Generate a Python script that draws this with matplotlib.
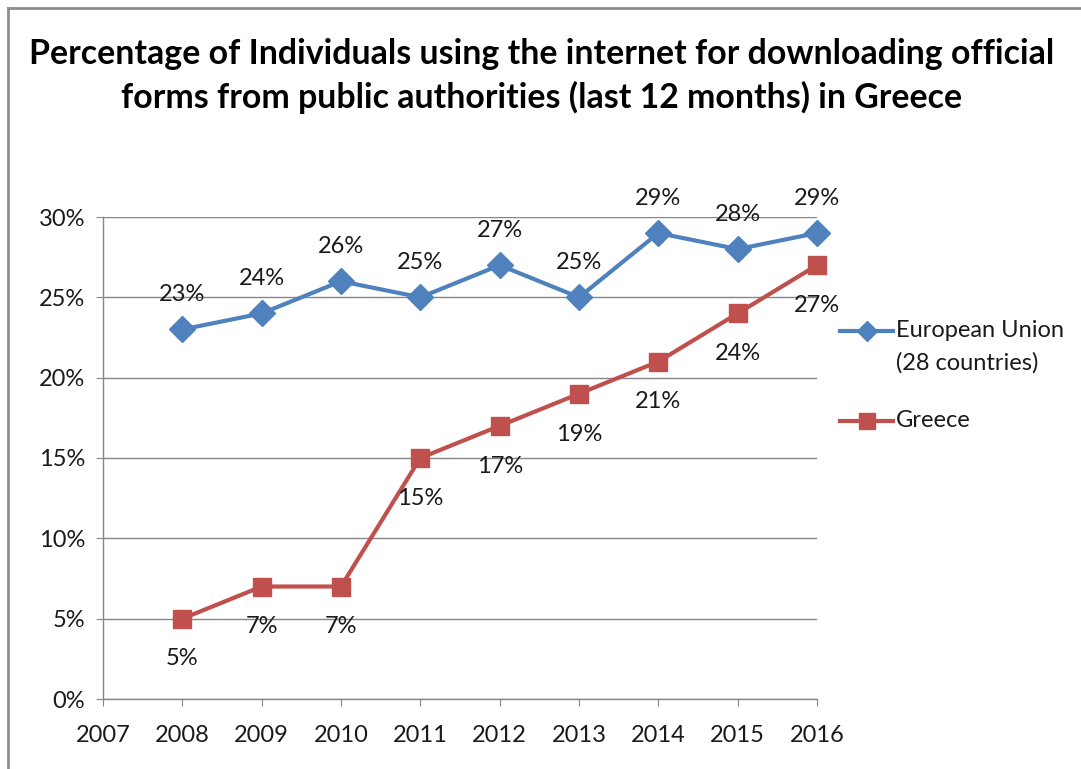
import matplotlib
matplotlib.use("Agg")
import matplotlib.pyplot as plt
from matplotlib.lines import Line2D
from matplotlib.ticker import FuncFormatter, MultipleLocator

years = [2008, 2009, 2010, 2011, 2012, 2013, 2014, 2015, 2016]
eu_values = [23, 24, 26, 25, 27, 25, 29, 28, 29]
greece_values = [5, 7, 7, 15, 17, 19, 21, 24, 27]
eu_label = "European Union\n(28 countries)"
greece_label = "Greece"
title = ("Percentage of Individuals using the internet for downloading official\n"
         "forms from public authorities (last 12 months) in Greece")

plt.rcParams["font.family"] = ["Lato", "DejaVu Sans"]

BLUE = "#4F81BD"
RED = "#C0504D"
GRID = "#868686"
TEXT = "#1a1a1a"
FS = 17

fig = plt.figure(figsize=(10.81, 7.69), dpi=100)
W, H = 1081, 769


def fx(px):
    return px / W


def fy(py):
    return 1 - py / H


ax = fig.add_axes([fx(103), fy(699), (817 - 103) / W, (699 - 217) / H])

ax.plot(years, eu_values, color=BLUE, lw=3, marker="D", ms=13,
        mec=BLUE, mfc=BLUE, zorder=3, clip_on=False, label=eu_label)
ax.plot(years, greece_values, color=RED, lw=3, marker="s", ms=12.5,
        mec=RED, mfc=RED, zorder=3, clip_on=False, label=greece_label)

for x, v in zip(years, eu_values):
    ax.annotate(f"{v}%", (x, v), xytext=(0, 25), textcoords="offset points",
                ha="center", va="center", fontsize=FS, color=TEXT,
                annotation_clip=False)
for x, v in zip(years, greece_values):
    ax.annotate(f"{v}%", (x, v), xytext=(0, -29), textcoords="offset points",
                ha="center", va="center", fontsize=FS, color=TEXT,
                annotation_clip=False)

ax.set_xlim(2007, 2016)
ax.set_ylim(0, 30)
ax.xaxis.set_major_locator(MultipleLocator(1))
ax.yaxis.set_major_locator(MultipleLocator(5))
ax.xaxis.set_major_formatter(FuncFormatter(lambda v, p: f"{int(round(v))}"))
ax.yaxis.set_major_formatter(FuncFormatter(lambda v, p: f"{int(round(v))}%"))
ax.grid(axis="y", color=GRID, lw=1.0)
ax.set_axisbelow(True)
for s in ("top", "right"):
    ax.spines[s].set_visible(False)
for s in ("left", "bottom"):
    ax.spines[s].set_color(GRID)
    ax.spines[s].set_linewidth(1.0)
ax.tick_params(axis="both", direction="out", length=5, color=GRID,
               labelsize=FS, labelcolor=TEXT)
ax.tick_params(axis="x", pad=14)
ax.tick_params(axis="y", pad=8)

# legend, with each key aligned to the first line of its label
legend_rows = [
    (eu_label, BLUE, "D", 10, 331),
    (greece_label, RED, "s", 12, 421),
]
for label, color, marker, ms, ypx in legend_rows:
    fig.add_artist(Line2D([fx(840), fx(893)], [fy(ypx), fy(ypx)],
                          color=color, lw=3))
    fig.add_artist(Line2D([fx(866.5)], [fy(ypx)], color=color, marker=marker,
                          ms=ms, mec=color, mfc=color, lw=0))
    fig.text(fx(896), fy(ypx - 11), label, ha="left", va="top",
             fontsize=FS, color=TEXT, linespacing=1.62)

fig.text(fx(542), fy(76), title, ha="center", va="center",
         fontsize=24.4, fontweight="bold", linespacing=1.4, color="#000000")

# outer frame edges
fig.add_artist(Line2D([fx(8), 1], [fy(8), fy(8)], color="#8c8c8c", lw=2))
fig.add_artist(Line2D([fx(8), fx(8)], [0, fy(8)], color="#8c8c8c", lw=2))

fig.savefig("out.png", dpi=100, facecolor="white")
